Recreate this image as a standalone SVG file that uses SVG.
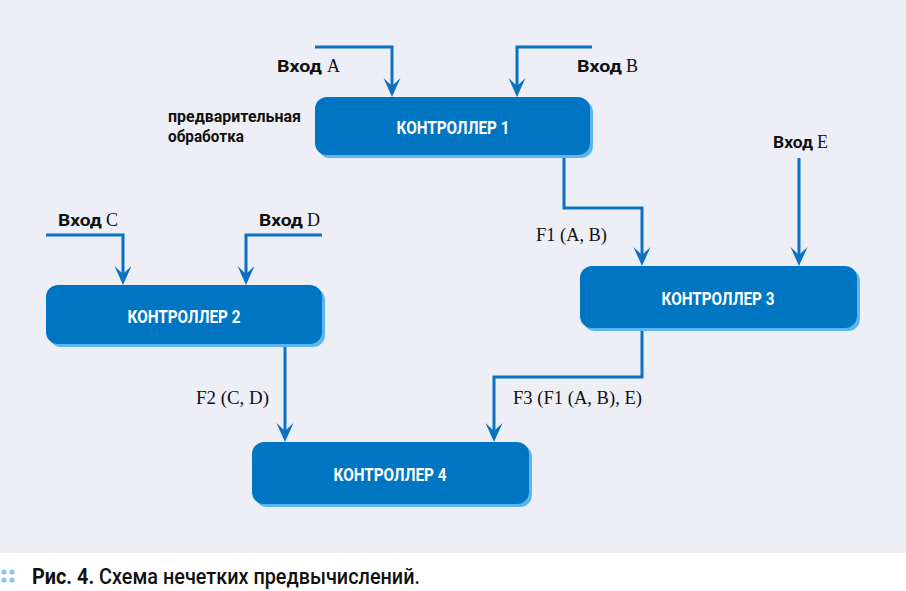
<svg xmlns="http://www.w3.org/2000/svg" width="906" height="591" viewBox="0 0 906 591">
<style>
.bg{fill:#eeeef7}
.box{fill:#0075c2}
.sh{fill:#5cb6ec}
.bt{font-family:Roboto,"Liberation Sans",sans-serif;font-weight:bold;font-size:19px;fill:#ffffff;text-anchor:middle}
.ln{fill:none;stroke:#0a72c0;stroke-width:3}
.lb{font-family:Roboto,"Liberation Sans",sans-serif;font-weight:bold;font-size:17px;fill:#111}
.sr{font-family:"Liberation Serif",serif;font-size:18px;fill:#111;font-weight:normal}
.cap{font-family:Roboto,"Liberation Sans",sans-serif;font-size:22px;fill:#111;font-weight:500}
</style>
<defs>
<marker id="ah" markerUnits="userSpaceOnUse" orient="auto" overflow="visible" refX="-8" refY="0" markerWidth="20" markerHeight="20">
<path d="M0,0 L-19,-8.5 L-11,0 L-19,8.5 Z" fill="#0a72c0"/>
</marker>
</defs>
<rect class="bg" x="0" y="0" width="906" height="553"/>
<rect x="0" y="553" width="906" height="38" fill="#ffffff"/>

<g id="connectors">
<path class="ln" d="M315,47 H392 V89" marker-end="url(#ah)"/>
<path class="ln" d="M592,47 H517 V89" marker-end="url(#ah)"/>
<path class="ln" d="M46,235 H123 V277" marker-end="url(#ah)"/>
<path class="ln" d="M322,235 H246 V277" marker-end="url(#ah)"/>
<path class="ln" d="M799,158 V258" marker-end="url(#ah)"/>
<path class="ln" d="M564,157 V208 H642 V258" marker-end="url(#ah)"/>
<path class="ln" d="M642,328 V377 H494 V434" marker-end="url(#ah)"/>
<path class="ln" d="M285,344 V434" marker-end="url(#ah)"/>
</g>

<g id="labels">
<text class="lb" x="277" y="72" textLength="45" lengthAdjust="spacingAndGlyphs">Вход</text><text class="sr" x="327" y="72">A</text>
<text class="lb" x="577" y="72" textLength="45" lengthAdjust="spacingAndGlyphs">Вход</text><text class="sr" x="626" y="72">B</text>
<text class="lb" x="58" y="226" textLength="44" lengthAdjust="spacingAndGlyphs">Вход</text><text class="sr" x="106" y="226">C</text>
<text class="lb" x="259" y="226" textLength="44" lengthAdjust="spacingAndGlyphs">Вход</text><text class="sr" x="307" y="226">D</text>
<text class="lb" x="773" y="148" textLength="40" lengthAdjust="spacingAndGlyphs">Вход</text><text class="sr" x="817" y="148">E</text>
<text class="lb" x="168" y="122" font-size="15" textLength="133" lengthAdjust="spacingAndGlyphs">предварительная</text>
<text class="lb" x="168" y="142" font-size="15" textLength="76" lengthAdjust="spacingAndGlyphs">обработка</text>
<text class="sr" x="536" y="241" textLength="71" lengthAdjust="spacingAndGlyphs">F1 (A, B)</text>
<text class="sr" x="196" y="404" textLength="73" lengthAdjust="spacingAndGlyphs">F2 (C, D)</text>
<text class="sr" x="513" y="404" textLength="129" lengthAdjust="spacingAndGlyphs">F3 (F1 (A, B), E)</text>
</g>

<g id="node1">
<rect class="sh" x="318" y="100" width="275" height="58" rx="12"/>
<rect class="box" x="315" y="97" width="275" height="58" rx="12"/>
<text class="bt" x="453" y="134" textLength="113" lengthAdjust="spacingAndGlyphs">КОНТРОЛЛЕР 1</text>
</g>
<g id="node2">
<rect class="sh" x="49" y="288" width="276" height="59" rx="12"/>
<rect class="box" x="46" y="285" width="276" height="59" rx="12"/>
<text class="bt" x="184" y="323" textLength="113" lengthAdjust="spacingAndGlyphs">КОНТРОЛЛЕР 2</text>
</g>
<g id="node3">
<rect class="sh" x="583" y="269" width="277" height="62" rx="12"/>
<rect class="box" x="580" y="266" width="277" height="62" rx="12"/>
<text class="bt" x="718" y="305" textLength="113" lengthAdjust="spacingAndGlyphs">КОНТРОЛЛЕР 3</text>
</g>
<g id="node4">
<rect class="sh" x="255" y="445" width="277" height="62" rx="12"/>
<rect class="box" x="252" y="442" width="277" height="62" rx="12"/>
<text class="bt" x="390" y="481" textLength="113" lengthAdjust="spacingAndGlyphs">КОНТРОЛЛЕР 4</text>
</g>

<g id="caption">
<circle cx="4" cy="572" r="2.6" fill="#8ec3ea"/><circle cx="12" cy="572" r="2.6" fill="#8ec3ea"/>
<circle cx="4" cy="580" r="2.6" fill="#8ec3ea"/><circle cx="12" cy="580" r="2.6" fill="#8ec3ea"/>
<text class="cap" x="32" y="584" textLength="388" lengthAdjust="spacingAndGlyphs"><tspan font-weight="bold">Рис. 4.</tspan> Схема нечетких предвычислений.</text>
</g>
</svg>
